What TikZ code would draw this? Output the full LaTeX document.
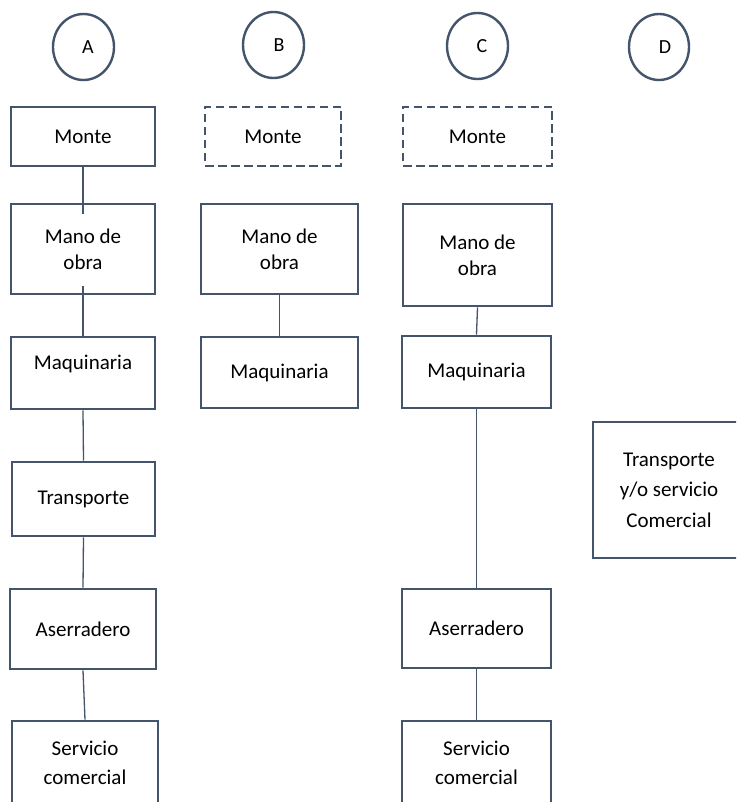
\documentclass[tikz,border=0pt]{standalone}
\usepackage{fontspec}
\setmainfont{Carlito}
\usetikzlibrary{shapes.geometric}
\definecolor{slate}{HTML}{44546A}
\begin{document}
\begin{tikzpicture}[x=1pt,y=-1pt,
  every node/.style={font=\fontsize{21}{26}\selectfont, text=black},
  circ/.style={ellipse, draw=slate, line width=2.4pt, minimum width=61pt, minimum height=66pt, inner sep=0pt, font=\fontsize{20}{24}\selectfont},
  box/.style={rectangle, draw=slate, line width=2.7pt, inner sep=0pt, align=center, fill=white},
  dbox/.style={box, dash pattern=on 8.5pt off 4.5pt},
  conn/.style={draw=slate, line width=1.3pt}]
\useasboundingbox (0,0) rectangle (736,802);
\clip (0,0) rectangle (736,802);
\fill[white] (0,0) rectangle (736,802);
% circles
\node[circ] (cA) at (83.5,47) {\hspace*{9pt}A};
\node[circ] (cB) at (273.5,45) {\hspace*{11pt}B};
\node[circ] (cC) at (477.5,46) {\hspace*{9pt}C};
\node[circ, minimum width=60pt] (cD) at (659,47) {\hspace*{12pt}D};
% column A
\node[box, minimum width=144pt, minimum height=59pt] (monteA) at (83,136.5) {Monte};
\node[box, minimum width=144pt, minimum height=90pt] (manoA) at (83,249) {Mano de\\obra};
\node[box, minimum width=144pt, minimum height=72pt, text depth=22pt] (maqA) at (83,373) {Maquinaria};
\node[box, minimum width=143pt, minimum height=74pt] (transA) at (83.5,499) {Transporte};
\node[box, minimum width=146pt, minimum height=80pt] (aserA) at (83,629) {Aserradero};
\node[box, minimum width=146pt, minimum height=83pt, font=\fontsize{21}{29}\selectfont] (servA) at (85,762.5) {Servicio\\comercial};
% column B
\node[dbox, minimum width=136pt, minimum height=59pt] (monteB) at (273,136.5) {Monte};
\node[box, minimum width=157pt, minimum height=90pt] (manoB) at (279.5,249) {Mano de\\obra};
\node[box, minimum width=157pt, minimum height=71pt] (maqB) at (279.5,372.5) {Maquinaria};
% column C
\node[dbox, minimum width=149pt, minimum height=59pt] (monteC) at (477.5,136.5) {Monte};
\node[box, minimum width=149pt, minimum height=102pt] (manoC) at (477.5,255) {Mano de\\obra};
\node[box, minimum width=149pt, minimum height=72pt] (maqC) at (476.5,372) {Maquinaria};
\node[box, minimum width=149pt, minimum height=79pt] (aserC) at (476.5,628.5) {Aserradero};
\node[box, minimum width=149pt, minimum height=83pt, font=\fontsize{21}{29}\selectfont] (servC) at (476.5,762.5) {Servicio\\comercial};
% column D
\node[box, minimum width=152pt, minimum height=136pt, font=\fontsize{21}{30.5}\selectfont] (transD) at (669,490) {Transporte\\y/o servicio\\Comercial};
% connectors
\draw[conn] (monteA.south) -- ([yshift=-11pt]manoA.north);
\draw[conn] ([yshift=9pt]manoA.south) -- (maqA.north);
\draw[conn] (maqA.south) -- (transA.north);
\draw[conn] (transA.south) -- (aserA.north);
\draw[conn] (aserA.south) -- (servA.north);
\draw[conn] (manoB.south) -- (maqB.north);
\draw[conn] (manoC.south) -- (maqC.north);
\draw[conn] (maqC.south) -- (aserC.north);
\draw[conn] (aserC.south) -- (servC.north);
\end{tikzpicture}
\end{document}
